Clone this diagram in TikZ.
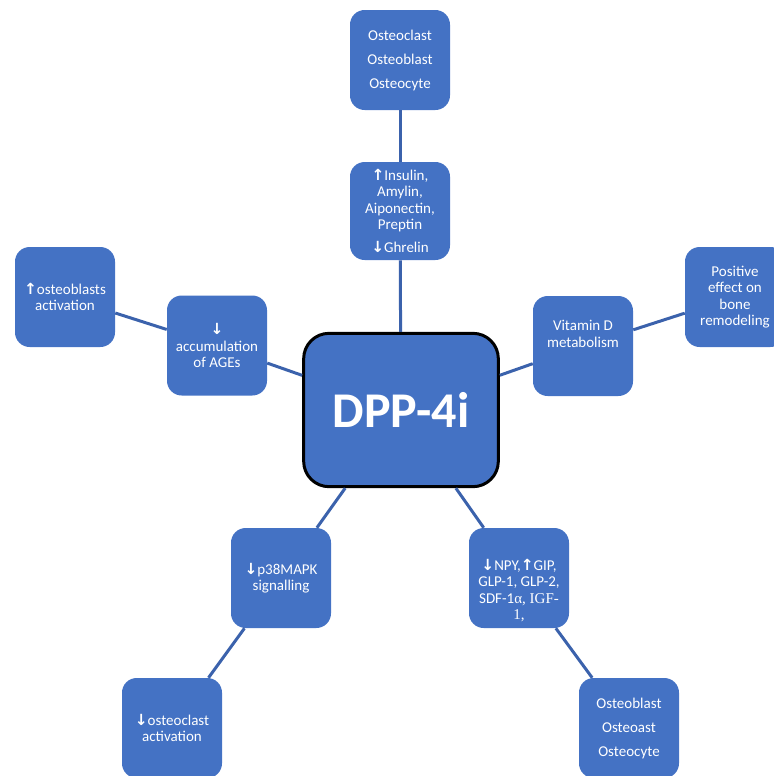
\documentclass[tikz,border=0pt]{standalone}
\usepackage{fontspec}
\setmainfont{Carlito}
\newfontfamily\arrowfont{DejaVu Sans}
\newfontfamily\timesfont{Liberation Serif}
\newcommand{\upar}{{\arrowfont\bfseries\fontsize{11.5}{10}\selectfont ↑}}
\newcommand{\dnar}{{\arrowfont\bfseries\fontsize{11.5}{10}\selectfont ↓}}
\definecolor{boxblue}{HTML}{4472C4}
\definecolor{lineblue}{HTML}{3B62AC}
\tikzset{
  box/.style={rectangle, rounded corners=11pt, fill=boxblue, draw=none,
    minimum width=75pt, minimum height=75pt, text=white, align=center,
    font=\fontsize{11.25}{12.4}\selectfont, inner sep=2pt},
  spaced/.style={font=\fontsize{11.25}{18}\selectfont},
  boxtext/.style={text=white, align=center, font=\fontsize{11.25}{12.4}\selectfont, inner sep=0pt},
  hub/.style={rectangle, rounded corners=19pt, fill=boxblue, draw=black,
    line width=2.25pt, minimum width=146pt, minimum height=115pt,
    text=white, font=\fontsize{37.5}{40}\selectfont\bfseries},
  link/.style={draw=lineblue, line width=2.25pt}
}
\begin{document}
\begin{tikzpicture}[x=0.75pt,y=-0.75pt]
\useasboundingbox (0,0) rectangle (774,776);

% central hub
\node[hub] (dpp) at (401,410) {DPP-4i};

% upper branch
\node[box, spaced] (cells1) at (400,60) {Osteoclast\\Osteoblast\\Osteocyte};
\node[box, minimum height=73.5pt] (horm) at (400,211)
  {\upar Insulin,\\Amylin,\\Aiponectin,\\Preptin\\[5pt]\dnar Ghrelin};

% left branch
\node[box] (ages) at (217,345.5) {\dnar\\accumulation\\of AGEs};
\node[box] (oblact) at (65,297) {\upar osteoblasts\\activation};

% right branch
\node[box] (vitd) at (583,346) {};
\node[boxtext] at ([yshift=9pt]vitd.center) {Vitamin D\\metabolism};
\node[box] (remod) at (735,297) {Positive\\effect on\\bone\\remodeling};

% lower left branch
\node[box] (p38) at (281,578) {\dnar p38MAPK\\signalling};
\node[box] (oclact) at (172,728) {\dnar osteoclast\\activation};

% lower right branch
\node[box] (incr) at (519,578) {};
\node[boxtext] at ([yshift=-9.5pt]incr.center)
  {\dnar NPY,\upar GIP,\\GLP-1, GLP-2,\\SDF-1{\timesfont α, IGF-}\\{\timesfont 1,}};
\node[box, spaced] (cells2) at (629,728) {Osteoblast\\Osteoast\\Osteocyte};

% connectors
\draw[link] (cells1) -- (horm);
\draw[link] (horm) -- (dpp);
\draw[link] (dpp) -- (ages);
\draw[link] (ages) -- (oblact);
\draw[link] (dpp) -- (vitd);
\draw[link] (vitd) -- (remod);
\draw[link] (dpp) -- (p38);
\draw[link] (p38) -- (oclact);
\draw[link] (dpp) -- (incr);
\draw[link] (incr) -- (cells2);
\end{tikzpicture}
\end{document}
